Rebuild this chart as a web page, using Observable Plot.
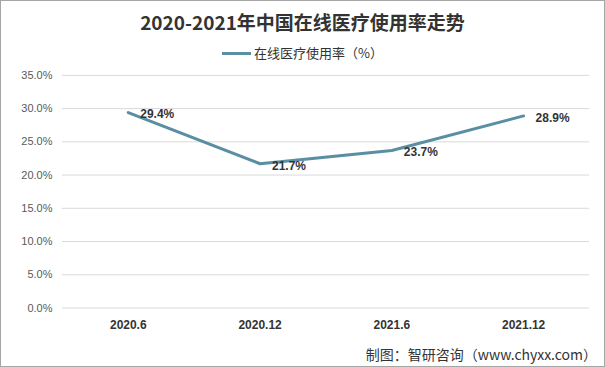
<!DOCTYPE html>
<html><head><meta charset="utf-8">
<script src="https://cdn.jsdelivr.net/npm/d3@7"></script>
<script src="https://cdn.jsdelivr.net/npm/@observablehq/plot@0.6"></script>
<style>
html,body{margin:0;padding:0;background:#fff;}
#wrap{position:relative;width:605px;height:367px;box-sizing:border-box;border:1px solid #a6a6a6;overflow:hidden;font-family:"Noto Sans CJK SC","Liberation Sans",sans-serif;}
#chart{position:absolute;left:-1px;top:-1px;}
#title{position:absolute;left:0;right:0;top:7px;text-align:center;font-size:19px;font-weight:bold;color:#333;}
#legend{position:absolute;left:0;right:0;top:42px;text-align:center;font-size:13px;color:#333;}
#legend .sw{display:inline-block;width:29px;height:3px;background:#5a8ea2;vertical-align:middle;margin-right:3px;position:relative;top:-1px;}
#caption{position:absolute;right:7px;top:343px;font-size:14px;color:#333;}
</style></head>
<body>
<div id="wrap">
<div id="chart"></div>
<div id="title">2020-2021年中国在线医疗使用率走势</div>
<div id="legend"><span class="sw"></span>在线医疗使用率（%）</div>
<div id="caption">制图：智研咨询（www.chyxx.com）</div>
</div>
<script>
const periods = ["2020.6", "2020.12", "2021.6", "2021.12"];
const rates = [0.294, 0.217, 0.237, 0.289];
const yTicks = [0, 0.05, 0.10, 0.15, 0.20, 0.25, 0.30, 0.35];

const data = periods.map((p, i) => ({period: p, rate: rates[i]}));

const chart = Plot.plot({
  width: 605,
  height: 367,
  marginTop: 75,
  marginBottom: 59,
  marginLeft: 62,
  marginRight: 15,
  style: {background: "transparent", fontFamily: "'Liberation Sans', Arial, sans-serif"},
  x: {type: "point", domain: periods, padding: 0.5, label: null},
  y: {domain: [0, 0.35], label: null},
  marks: [
    Plot.ruleY(yTicks, {stroke: "#d9d9d9", strokeWidth: 1}),
    Plot.axisY({ticks: yTicks, tickFormat: d3.format(".1%"), tickSize: 0, tickPadding: 10, fontSize: 11, fill: "#595959", label: null}),
    Plot.axisX({tickSize: 0, tickPadding: 13, fontSize: 12, fontWeight: "bold", fill: "#333", label: null}),
    Plot.line(data, {x: "period", y: "rate", stroke: "#5a8ea2", strokeWidth: 3}),
    Plot.text(data, {x: "period", y: "rate", text: d => d3.format(".1%")(d.rate), textAnchor: "start", dx: 12, dy: 2, fontSize: 12, fontWeight: "bold", fill: "#333"})
  ]
});
document.getElementById("chart").appendChild(chart);
</script>
</body></html>
